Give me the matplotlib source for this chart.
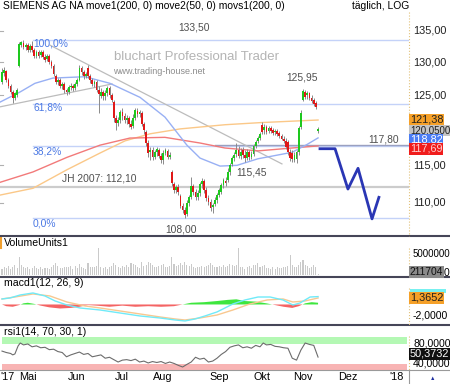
import matplotlib.pyplot as plt
from matplotlib.lines import Line2D
from matplotlib.patches import Rectangle
import numpy as np

plt.rcParams['font.family'] = ['Liberation Sans', 'DejaVu Sans']

# ---- daily candles (trading-day index 0..147) ----
opens = [127.0, 128.4, 128.7, 127.3, 126.4, 125.5, 124.6, 125.0, 129.4, 132.7,
         133.0, 132.4, 132.7, 131.9, 132.6, 131.9, 131.0, 131.6, 131.2, 131.6,
         130.8, 130.5, 131.0, 130.1, 129.4, 127.9, 127.0, 127.3, 126.4, 126.7,
         125.8, 125.5, 126.2, 126.4, 126.1, 126.7, 127.3, 129.1, 128.5, 127.9,
         129.1, 127.9, 127.3, 126.7, 127.0, 125.8, 124.9, 125.5, 124.9, 125.3,
         126.1, 125.0, 124.0, 121.7, 121.0, 121.4, 122.5, 122.0, 121.4, 121.7,
         120.8, 120.5, 121.7, 122.7, 122.3, 122.4, 120.8, 119.7, 118.1, 116.8,
         117.1, 116.1, 116.8, 117.1, 116.3, 115.7, 116.7, 117.0, 116.1, 114.1,
         112.5, 111.7, 112.1, 110.9, 109.6, 109.0, 108.5, 110.0, 110.7, 112.2,
         111.4, 110.7, 111.3, 112.5, 112.9, 111.7, 110.6, 110.1, 109.4, 109.8,
         110.4, 111.0, 111.4, 112.3, 112.9, 113.0, 114.1, 115.2, 116.0, 116.6,
         117.1, 116.3, 117.1, 116.4, 116.0, 116.8, 116.1, 116.6, 117.7, 118.4,
         118.8, 120.7, 119.9, 120.4, 119.8, 120.2, 119.9, 119.7, 119.8, 119.5,
         119.1, 118.7, 118.4, 118.2, 116.8, 116.7, 115.7, 115.9, 116.8, 120.4,
         124.3, 125.5, 125.0, 125.3, 124.6, 124.3, 123.9, 119.8]
closes = [128.5, 128.8, 127.3, 126.4, 125.5, 124.6, 125.3, 125.8, 132.9, 133.2,
          132.4, 132.7, 131.9, 132.6, 131.9, 131.0, 131.6, 131.0, 131.6, 130.8,
          130.4, 131.0, 130.1, 129.4, 128.2, 127.0, 127.3, 126.4, 126.7, 125.8,
          125.5, 126.2, 126.4, 126.1, 126.7, 127.3, 129.1, 128.5, 127.9, 128.2,
          127.9, 127.3, 126.7, 127.0, 125.8, 125.2, 125.5, 124.9, 125.3, 126.1,
          125.0, 124.3, 121.7, 121.0, 121.4, 122.5, 122.0, 121.4, 121.7, 120.8,
          120.4, 121.7, 122.8, 122.3, 122.5, 120.8, 119.9, 118.1, 116.7, 117.1,
          116.1, 116.8, 117.3, 116.3, 115.7, 116.7, 117.1, 116.1, 116.4, 112.6,
          111.7, 112.1, 111.4, 109.6, 109.0, 108.4, 110.0, 110.7, 112.2, 111.4,
          110.7, 111.3, 112.5, 112.9, 111.7, 110.6, 110.1, 109.3, 109.7, 110.4,
          111.0, 111.7, 112.3, 113.0, 112.6, 114.1, 115.0, 116.0, 116.4, 117.1,
          116.3, 116.8, 116.4, 116.0, 116.8, 116.1, 116.6, 117.7, 118.2, 118.8,
          119.4, 119.7, 120.4, 119.7, 120.2, 119.8, 119.5, 119.8, 119.4, 119.1,
          118.7, 118.4, 117.5, 116.8, 116.0, 115.9, 116.4, 116.8, 120.2, 122.4,
          125.6, 124.7, 125.3, 124.6, 124.2, 123.7, 123.3, 120.05]
highs = [129.1, 129.3, 128.8, 127.6, 126.7, 125.8, 125.5, 126.1, 133.2, 133.3,
         133.5, 133.0, 133.0, 132.9, 133.4, 132.2, 131.9, 131.9, 131.9, 131.9,
         131.3, 131.3, 131.3, 130.4, 129.7, 128.2, 127.6, 127.6, 127.0, 127.0,
         126.1, 126.5, 126.8, 126.7, 127.0, 127.6, 129.6, 129.4, 128.8, 128.5,
         129.6, 128.2, 127.6, 127.3, 127.3, 126.4, 126.1, 125.8, 125.8, 126.4,
         126.4, 125.3, 124.3, 122.1, 121.8, 122.8, 123.1, 122.4, 122.1, 122.0,
         121.4, 122.3, 123.1, 123.1, 122.8, 122.7, 121.1, 119.9, 118.5, 117.5,
         117.5, 117.1, 117.5, 117.4, 116.7, 117.1, 117.4, 117.3, 116.8, 114.4,
         112.7, 112.3, 112.5, 111.1, 110.0, 109.4, 110.4, 111.0, 113.4, 112.5,
         111.8, 111.7, 112.7, 113.3, 113.1, 112.1, 111.0, 110.5, 110.0, 110.7,
         111.3, 111.9, 112.6, 113.3, 113.4, 114.6, 115.3, 116.3, 116.8, 118.1,
         117.7, 117.4, 117.5, 117.1, 117.3, 117.1, 117.0, 118.0, 118.5, 119.1,
         119.7, 121.1, 120.8, 120.7, 120.5, 120.5, 120.2, 120.1, 120.1, 119.8,
         119.4, 119.1, 118.8, 118.5, 117.3, 117.1, 116.8, 117.1, 120.5, 122.8,
         125.95, 125.8, 125.6, 125.5, 125.0, 124.6, 124.2, 120.4]
lows = [126.7, 127.9, 127.0, 126.1, 125.2, 123.9, 124.3, 124.7, 129.3, 132.4,
        132.1, 131.9, 131.6, 131.6, 131.6, 130.7, 130.7, 130.7, 130.8, 130.5,
        130.1, 130.2, 129.7, 129.1, 127.9, 126.7, 126.5, 126.1, 125.9, 125.3,
        125.0, 125.2, 125.8, 125.6, 125.8, 126.4, 127.1, 128.1, 127.5, 127.6,
        127.6, 126.8, 126.4, 126.2, 125.5, 122.4, 124.6, 124.3, 124.3, 124.9,
        124.6, 124.0, 121.1, 119.9, 120.5, 121.0, 121.4, 121.0, 120.8, 120.4,
        120.1, 120.2, 121.4, 121.8, 121.8, 120.5, 119.4, 117.7, 116.1, 115.7,
        115.7, 115.9, 116.3, 116.0, 115.3, 115.2, 116.4, 115.9, 115.9, 112.2,
        111.3, 111.3, 111.0, 109.3, 108.6, 108.0, 108.3, 109.6, 110.5, 111.0,
        110.4, 110.4, 110.9, 111.9, 111.3, 110.2, 109.7, 108.9, 108.6, 109.6,
        110.0, 110.7, 111.1, 111.9, 112.2, 112.7, 113.7, 114.9, 115.6, 116.1,
        116.0, 115.9, 116.0, 115.45, 115.7, 115.7, 115.9, 116.3, 117.4, 118.1,
        118.5, 119.4, 119.4, 119.4, 119.5, 119.5, 119.2, 119.2, 119.1, 118.8,
        118.5, 118.1, 117.3, 116.4, 115.6, 115.5, 115.5, 115.3, 116.4, 120.1,
        124.2, 124.4, 124.4, 124.3, 123.9, 123.4, 123.0, 119.5]
volume_mio = [1.5, 2.0, 1.8, 2.2, 1.6, 2.0, 2.4, 1.7, 4.5, 2.6,
              2.0, 1.8, 1.9, 1.6, 1.8, 2.2, 1.7, 1.6, 1.9, 1.5,
              1.7, 1.8, 1.6, 2.0, 2.4, 3.0, 2.2, 1.8, 1.7, 2.0,
              2.1, 1.9, 2.2, 1.5, 2.3, 1.8, 2.8, 2.0, 1.7, 1.6,
              3.0, 2.0, 1.9, 2.1, 2.3, 6.8, 2.1, 1.8, 2.0, 1.6,
              1.9, 2.2, 3.0, 2.5, 2.0, 1.8, 2.2, 1.9, 2.6, 2.1,
              3.1, 2.8, 2.5, 2.0, 1.8, 3.2, 2.2, 2.4, 3.3, 2.9,
              2.4, 2.1, 2.0, 2.3, 2.6, 2.8, 2.1, 1.9, 2.2, 4.6,
              2.7, 2.3, 2.6, 3.0, 2.4, 3.2, 2.5, 2.2, 2.8, 2.0,
              1.8, 2.1, 1.9, 2.3, 2.0, 2.2, 2.6, 3.0, 2.4, 2.0,
              1.9, 2.3, 2.0, 2.5, 2.1, 2.2, 2.7, 2.4, 2.3, 2.5,
              6.8, 2.0, 1.9, 1.6, 2.1, 2.2, 1.8, 2.4, 2.6, 3.0,
              2.0, 2.3, 2.6, 1.8, 1.7, 1.5, 1.9, 1.6, 2.0, 1.8,
              1.7, 2.1, 1.9, 2.2, 5.0, 2.4, 2.0, 2.1, 2.6, 3.2,
              3.7, 2.4, 2.2, 1.8, 2.0, 2.4, 1.9, 0.211704]

# ---- moving averages (read at a few days) ----
ma50_days = [-0.9, 8.4, 15.3, 23.7, 38.6, 50.2, 64.2, 75.8, 86, 92.1, 101.4, 109.3, 119, 134.9, 141.9, 147]
ma50_vals = [124.0, 125.5, 126.8, 127.6, 127.8, 126.8, 124.7, 121.8, 117.8, 116.0, 114.9, 115.0, 115.9, 116.8, 117.9, 118.82]
ema200_days = [-0.9, 14.4, 30.2, 45.6, 59.5, 75.8, 92.1, 103.7, 119.1, 134.9, 147]
ema200_vals = [112.7, 114.1, 116.1, 117.8, 118.8, 118.9, 118.1, 117.4, 117.0, 117.4, 117.69]
sma200_days = [-0.9, 14.4, 30.2, 45.6, 57.2, 68.8, 82.8, 103.7, 120, 134, 147]
sma200_vals = [111.0, 111.9, 114.4, 116.7, 118.4, 119.4, 120.1, 120.7, 121.0, 121.2, 121.38]

fib_levels = [133.5, 123.76, 117.74, 108.0]
fib_labels = ['100,0%', '61,8%', '38,2%', '0,0%']
jh2007 = 112.10
level_117 = 117.80
down_trend = ([22.3, 130.2], [132.7, 115.2])
up_trend = ([-0.9, 51.2], [123.3, 126.7])
forecast_days = [147.9, 154.9, 160.9, 165.6, 172.1, 175.3]
forecast_vals = [117.3, 117.3, 111.8, 114.6, 107.9, 110.7]

# ---- MACD ----
macd_days = [0, 3.7, 8.4, 14.4, 20, 24.7, 30.2, 36.3, 45.6, 54.9, 64.2, 73.5, 80.5, 85.1, 89.8,
             94.4, 100, 103.7, 107.4, 113, 119.1, 124.7, 130.7, 135.3, 138.6, 143.3, 147]
macd_vals = [0.96, 1.13, 1.65, 2.0, 1.48, 0.61, -0.09, -0.61, -0.96, -1.48, -2.0, -2.35, -2.7, -2.87, -2.52,
             -2.0, -1.3, -0.61, 0.09, 0.78, 1.3, 1.3, 0.78, -0.09, 0.26, 1.3, 1.37]
sig_days = [0, 6, 14.4, 22.3, 30.2, 38.6, 45.6, 54.9, 64.2, 73.5, 80.5, 85.1, 92.1, 100, 107.4,
            115.3, 123.3, 130.7, 135.3, 140.9, 147]
sig_vals = [0.96, 1.3, 1.83, 1.48, 0.43, -0.26, -0.61, -1.13, -1.65, -2.17, -2.52, -2.7, -2.35, -1.83, -0.96,
            0.09, 0.78, 0.96, 0.43, 0.61, 1.13]
hist_days = [0, 2, 5, 8, 10, 12, 15, 18, 22, 27, 32, 36, 40, 44, 50, 56, 62, 68, 74, 80, 84, 88,
             94, 100, 105, 109, 113, 118, 123, 127, 131, 135, 138, 141, 144, 147]
hist_vals = [0, -0.3, -0.4, -0.1, 0.2, 0.3, 0.1, -0.2, -0.5, -0.7, -0.6, -0.4, -0.1, -0.2, -0.4, -0.2,
             -0.4, -0.3, -0.4, -0.3, 0.0, 0.3, 0.4, 0.6, 0.8, 0.9, 0.6, 0.5, 0.2, -0.1, -0.4, -0.6,
             -0.3, 0.2, 0.4, 0.3]

# ---- RSI ----
rsi_days = [0, 2, 4, 5, 6, 7.5, 8.5, 10, 12, 14, 16, 18, 20, 22, 24, 26, 28, 30, 32, 34, 36, 38, 40,
            42, 44, 46, 48, 50, 52, 54, 56, 58, 60, 62, 64, 66, 68, 70, 72, 74, 76, 78, 80, 82, 84,
            86, 88, 90, 92, 94, 96, 98, 100, 102, 104, 106, 108, 110, 112, 114, 116, 118, 120, 121.5,
            123, 125, 127, 129, 131, 133, 135, 137, 139, 141, 143, 145, 147]
rsi_vals = [63, 60, 58, 55, 57, 74, 80, 76, 78, 72, 74, 70, 71, 66, 67, 62, 60, 51, 55, 58, 61, 56, 58,
            51, 53, 55, 48, 50, 45, 40, 44, 45, 43, 46, 40, 42, 38, 41, 39, 41, 37, 40, 37, 33, 29.5,
            35, 40, 50, 46, 48, 40, 42, 48, 56, 62, 71, 74, 76, 70, 72, 69, 75, 72, 80,
            76, 77, 73, 72, 70, 69, 48, 44, 65, 80, 77, 75, 50.37]

month_pos = [0.9, 12.1, 34.9, 55.8, 74.9, 100.9, 120.9, 140.0, 160.9, 183.7]
month_lbl = ["'17", 'Mai', 'Jun', 'Jul', 'Aug', 'Sep', 'Okt', 'Nov', 'Dez', "'18"]

W, H = 450, 384
fig = plt.figure(figsize=(4.5, 3.84), dpi=100)
XL = (-0.93, 189.3)


def fx(px):
    return px / W


def fy(py):
    return 1 - py / H


def panel(top, bottom):
    ax = fig.add_axes([0, fy(bottom), 409 / W, (bottom - top) / H])
    ax.set_xlim(*XL)
    ax.axis('off')
    return ax


def flabel(px, py, s, **kw):
    kw.setdefault('fontsize', 7.6)
    kw.setdefault('va', 'center')
    fig.text(fx(px), fy(py), s, **kw)


def box(px, py, s, fc, tc='#202020', fs=7.8):
    flabel(px, py, s, color=tc, fontsize=fs,
           bbox=dict(facecolor=fc, edgecolor='none', pad=0.5))


# ---------------- main price panel ----------------
ax = panel(0, 236)
ax.set_yscale('log')
ax.set_ylim(105.72, 140.03)

days = np.arange(len(closes))
o, c, h, l = map(np.array, (opens, closes, highs, lows))
up = c >= o
ax.vlines(days, l, h, color='#8a8a8a', lw=0.7, zorder=3)
ax.bar(days, np.maximum(np.abs(c - o), 0.08), bottom=np.minimum(o, c), width=0.8,
       color=np.where(up, '#1ec81e', '#e01818'), zorder=4)

for lv in fib_levels:
    ax.plot([14.4, XL[1]], [lv, lv], color='#c4d2f8', lw=1, zorder=1)
ax.plot(XL, [jh2007, jh2007], color='#cccccc', lw=1.6, zorder=1)
ax.plot([99, XL[1]], [level_117, level_117], color='#9aa0c0', lw=1, zorder=1)
ax.plot(*down_trend, color='#bcbcbc', lw=0.9, zorder=2)
ax.plot(*up_trend, color='#bcbcbc', lw=0.9, zorder=2)

ax.plot(sma200_days, sma200_vals, color='#fbc888', lw=1, zorder=2)
ax.plot(ema200_days, ema200_vals, color='#f27a7a', lw=1, zorder=2)
ax.plot(ma50_days, ma50_vals, color='#98b0f4', lw=1, zorder=2)
ax.plot(forecast_days, forecast_vals, color='#2a36b4', lw=2, zorder=5)

for lv in [135, 130, 125, 115, 110]:
    ax.plot([XL[0], 0.4], [lv, lv], color='#b0b0b0', lw=0.8)

yt = ax.get_yaxis_transform()
for lv, s in zip([135, 130, 125, 115, 110], ['135,00', '130,00', '125,00', '115,00', '110,00']):
    ax.text(1.01, lv, s, transform=yt, fontsize=7.8, va='center', clip_on=False, color='#202020')

flabel(3, 6, 'SIEMENS AG NA move1(200, 0) move2(50, 0) movs1(200, 0)', fontsize=7.4)
flabel(352, 6, 'täglich, LOG', fontsize=7.4)
flabel(114, 57, 'bluchart Professional Trader', fontsize=9.5, color='#b4b4b4')
flabel(113, 71, 'www.trading-house.net', fontsize=6.5, color='#8c8c8c')

for s, py in zip(fib_labels, [44, 108, 151, 224]):
    flabel(33, py, s, color='#4a78e4', fontsize=7.4)
lblc = '#505050'
flabel(194, 28, '133,50', color=lblc, ha='center', fontsize=7.4)
flabel(302, 77, '125,95', color=lblc, ha='center', fontsize=7.4)
flabel(384, 140, '117,80', color=lblc, ha='center', fontsize=7.4)
flabel(252, 172, '115,45', color=lblc, ha='center', fontsize=7.4)
flabel(62, 178, 'JH 2007: 112,10', color=lblc, fontsize=7.4)
flabel(181, 229, '108,00', color=lblc, ha='center', fontsize=7.4)

box(410, 120, '121,38', '#f5a028')
box(410, 130.5, '120,0500', '#c4c4c4', fs=7.0)
box(410, 140, '118,82', '#4a7cf4', 'white')
box(410, 149, '117,69', '#f01c1c', '#ffd0d0')

# ---------------- volume ----------------
axv = panel(236, 277)
axv.set_ylim(-0.5, 9.75)
axv.bar(days, volume_mio, width=0.5, color='#cacaca')
flabel(4, 243, 'VolumeUnits1')
fig.add_artist(Line2D([fx(1), fx(1)], [fy(238), fy(248)], color='#f0a030', lw=1.5))
flabel(413, 254, '5000000', fontsize=7.0)
box(410, 272, '211704', '#8a8a8a', '#101010', fs=7.4)
flabel(444, 273, '0', fontsize=7.4)

# ---------------- MACD ----------------
axm = panel(277, 325)
axm.set_ylim(-3.57, 4.78)
hd, hv = np.array(hist_days), np.array(hist_vals)
axm.fill_between(hd, 0, hv, where=hv >= 0, interpolate=True, color='#3ee63e', lw=0)
axm.fill_between(hd, 0, hv, where=hv <= 0, interpolate=True, color='#f46464', lw=0)
axm.plot(sig_days, sig_vals, color='#f8c890', lw=1)
axm.plot(macd_days, macd_vals, color='#70eaf8', lw=1)
flabel(4, 283, 'macd1(12, 26, 9)')
fig.add_artist(Rectangle((fx(410), fy(293)), fx(36), 4 / H, transform=fig.transFigure,
                         facecolor='#78f0f0', edgecolor='none'))
box(410, 298, '1,3652', '#f5a028')
flabel(413, 316, '-2,0000')

# ---------------- RSI ----------------
axr = panel(325, 370)
axr.set_ylim(23.2, 117.9)
axr.axhspan(78, 93, xmin=0.005, xmax=0.995, color='#b4f8b4', lw=0)
axr.axhspan(23.2, 36, xmin=0.005, xmax=0.995, color='#f8b4b4', lw=0)
axr.plot(rsi_days, rsi_vals, color='#6c6c6c', lw=0.8)
flabel(4, 332, 'rsi1(14, 70, 30, 1)')
flabel(413, 343, '80,0000')
flabel(413, 363.5, '40,0000')
box(410, 354, '50,3732', '#101010', 'white')

# ---------------- frame pieces ----------------
for py in [236, 277, 325]:
    fig.add_artist(Line2D([0, 1], [fy(py), fy(py)], color='#464658', lw=1.5))
fig.add_artist(Line2D([0, 1], [fy(370), fy(370)], color='#9a9a9a', lw=0.8))
fig.add_artist(Line2D([fx(409), fx(409)], [fy(370), 0], color='#9a9a9a', lw=0.8))
for t, b in [(12, 236), (248, 277), (288, 325), (336, 370)]:
    fig.add_artist(Line2D([fx(409), fx(409)], [fy(t), fy(b)], color='#e2c27a', lw=0.8, ls=':'))

for d, s in zip(month_pos, month_lbl):
    px = 2 + 2.15 * d
    if d < 2:
        flabel(0, 377, s, ha='left', fontsize=7.8)
    else:
        flabel(px, 377, s, ha='center', fontsize=7.8)
fig.text(fx(433), fy(378), '▲', fontsize=4, color='#2030a0', ha='center', va='center')

fig.savefig('out.png', dpi=100)
